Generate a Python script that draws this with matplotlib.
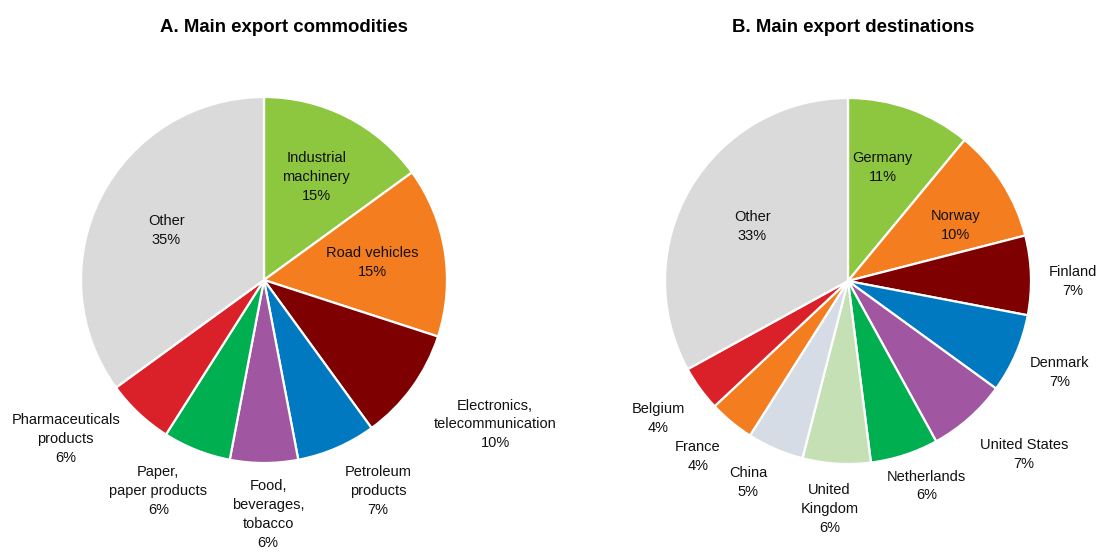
import numpy as np
import matplotlib
matplotlib.use("Agg")
import matplotlib.pyplot as plt

plt.rcParams['font.family'] = ['Liberation Sans', 'DejaVu Sans']

# Panel A: main export commodities (% of total)
commodities = ["Industrial\nmachinery", "Road vehicles", "Electronics,\ntelecommunication",
               "Petroleum\nproducts", "Food,\nbeverages,\ntobacco", "Paper,\npaper products",
               "Pharmaceuticals\nproducts", "Other"]
commodity_shares = [15, 15, 10, 7, 6, 6, 6, 35]

# Panel B: main export destinations (% of total)
destinations = ["Germany", "Norway", "Finland", "Denmark", "United States", "Netherlands",
                "United\nKingdom", "China", "France", "Belgium", "Other"]
destination_shares = [11, 10, 7, 7, 7, 6, 6, 5, 4, 4, 33]

colors_a = ["#8DC63F", "#F47D20", "#7F0000", "#0079C1", "#A156A1", "#00AF50", "#DA2129", "#DADADA"]
colors_b = ["#8DC63F", "#F47D20", "#7F0000", "#0079C1", "#A156A1", "#00AF50",
            "#C6E0B6", "#D6DCE5", "#F47D20", "#DA2129", "#DADADA"]

# label distance (in radii) and small angular nudge (degrees) per slice
label_r_a = [0.63, 0.60, 1.49, 1.31, 1.28, 1.29, 1.39, 0.60]
label_da_a = [0, 0, 4, 5, 1, -5, -8, 0]
label_r_b = [0.65, 0.66, 1.23, 1.26, 1.35, 1.20, 1.25, 1.23, 1.26, 1.28, 0.60]
label_da_b = [3, -5, -2, 0, 4, 3, -1, -3, -1, 0, 1]

W, H, R = 1097, 552, 183.0
fig = plt.figure(figsize=(W / 100, H / 100), dpi=100)


def draw_pie(x0, x1, cx, cy, values, labels, colors, label_r, label_da, title, title_x):
    ax = fig.add_axes([x0 / W, 0, (x1 - x0) / W, 1])
    wedges, _ = ax.pie(values, colors=colors, startangle=90, counterclock=False,
                       radius=1.0, center=(0, 0),
                       wedgeprops=dict(edgecolor="white", linewidth=1.6))
    ax.set_xlim((x0 - cx) / R, (x1 - cx) / R)
    ax.set_ylim((cy - H) / R, cy / R)
    ax.set_aspect("auto")
    ax.axis("off")
    for w, lab, v, r, da in zip(wedges, labels, values, label_r, label_da):
        ang = np.deg2rad((w.theta1 + w.theta2) / 2 + da)
        ax.text(r * np.cos(ang), r * np.sin(ang), f"{lab}\n{v}%", ha="center", va="center",
                fontsize=10.5, linespacing=1.45, color="#111111")
    fig.text(title_x / W, 1 - 27 / H, title, ha="center", va="center",
             fontsize=13.4, fontweight="bold")


draw_pie(0, 548, 264, 280, commodity_shares, commodities, colors_a, label_r_a, label_da_a,
         "A. Main export commodities", 284)
draw_pie(548, 1097, 848, 281, destination_shares, destinations, colors_b, label_r_b, label_da_b,
         "B. Main export destinations", 853)

fig.savefig("out.png", dpi=100)
